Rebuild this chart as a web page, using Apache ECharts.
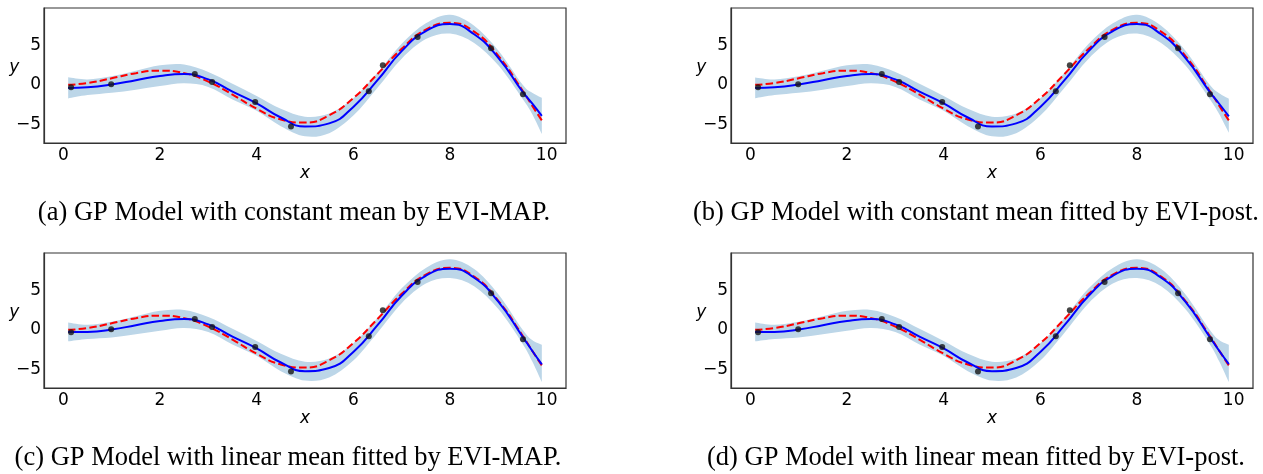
<!DOCTYPE html>
<html><head><meta charset="utf-8">
<script src="https://cdn.jsdelivr.net/npm/echarts@6/dist/echarts.min.js"></script>
<style>html,body{margin:0;padding:0;background:#fff}#c{width:1263px;height:474px}</style>
</head><body><div id="c"></div>
<script>
// ---- data ----
const X_GRID = [0.1, 0.5, 1.0, 1.5, 2.0, 2.5, 3.0, 3.5, 4.0, 4.5, 5.0, 5.5, 6.0, 6.5, 7.0, 7.5, 8.0, 8.5, 9.0, 9.5, 9.7, 9.9];
const TRUE_F = [0.01, 0.24, 0.84, 1.50, 1.82, 1.50, 0.42, -1.23, -3.03, -4.40, -4.79, -3.88, -1.68, 1.40, 4.60, 7.04, 7.91, 6.79, 3.71, -0.71, -2.64, -4.53];

const MEAN_A  = [-0.38, -0.30, 0.05, 0.60, 1.15, 1.40, 0.70, -0.85, -2.35, -4.15, -5.30, -4.90, -2.80, 0.60, 4.30, 6.85, 7.75, 6.45, 3.45, -0.85, -2.35, -3.95];
const UPPER_A = [0.97, 0.70, 1.10, 1.80, 2.50, 2.60, 1.65, 0.15, -1.40, -3.05, -4.05, -3.65, -1.70, 1.55, 5.25, 7.85, 8.95, 7.55, 4.40, 0.05, -1.00, -1.65];
const LOWER_A = [-1.73, -1.30, -1.00, -0.60, -0.15, 0.20, -0.25, -1.85, -3.30, -5.25, -6.55, -6.15, -3.90, -0.35, 3.35, 5.85, 6.55, 5.35, 2.50, -1.75, -3.70, -6.25];

const MEAN_B  = [-0.38, -0.30, 0.05, 0.60, 1.15, 1.40, 0.70, -0.85, -2.35, -4.15, -5.30, -4.90, -2.80, 0.60, 4.30, 6.85, 7.75, 6.45, 3.45, -0.85, -2.40, -4.00];
const UPPER_B = [0.95, 0.70, 1.10, 1.80, 2.50, 2.60, 1.65, 0.15, -1.40, -3.05, -4.05, -3.65, -1.70, 1.55, 5.25, 7.85, 8.95, 7.55, 4.40, 0.05, -1.05, -1.75];
const LOWER_B = [-1.70, -1.30, -1.00, -0.60, -0.15, 0.20, -0.25, -1.85, -3.30, -5.25, -6.55, -6.15, -3.90, -0.35, 3.35, 5.85, 6.55, 5.35, 2.50, -1.75, -3.70, -6.10];

const MEAN_C  = [-0.28, -0.25, 0.05, 0.60, 1.15, 1.40, 0.70, -0.85, -2.35, -4.15, -5.25, -4.85, -2.80, 0.60, 4.35, 6.90, 7.80, 6.65, 3.60, -0.85, -2.65, -4.40];
const UPPER_C = [0.95, 0.65, 1.05, 1.75, 2.45, 2.55, 1.65, 0.15, -1.40, -3.05, -4.05, -3.65, -1.70, 1.55, 5.30, 7.90, 9.00, 7.75, 4.55, 0.05, -1.30, -1.90];
const LOWER_C = [-1.45, -1.15, -0.95, -0.55, -0.10, 0.25, -0.25, -1.85, -3.30, -5.25, -6.45, -6.05, -3.90, -0.35, 3.40, 5.90, 6.60, 5.55, 2.65, -1.75, -4.00, -6.65];

const MEAN_D  = [-0.28, -0.25, 0.05, 0.60, 1.15, 1.40, 0.70, -0.85, -2.35, -4.15, -5.25, -4.85, -2.80, 0.60, 4.35, 6.90, 7.80, 6.65, 3.60, -0.85, -2.65, -4.35];
const UPPER_D = [0.95, 0.65, 1.05, 1.75, 2.45, 2.55, 1.65, 0.15, -1.40, -3.05, -4.05, -3.65, -1.70, 1.55, 5.30, 7.90, 9.00, 7.75, 4.55, 0.05, -1.30, -1.90];
const LOWER_D = [-1.45, -1.15, -0.95, -0.55, -0.10, 0.25, -0.25, -1.85, -3.30, -5.25, -6.45, -6.05, -3.90, -0.35, 3.40, 5.90, 6.60, 5.55, 2.65, -1.75, -4.00, -6.65];

const PTS_X = [0.16, 0.99, 2.72, 3.08, 3.97, 4.71, 6.32, 6.61, 7.33, 8.85, 9.51];
const PTS_Y = [-0.30, 0.09, 1.40, 0.38, -2.17, -5.31, -0.81, 2.51, 6.12, 4.68, -1.19];

const X_TICKS = [0, 2, 4, 6, 8, 10];
const Y_TICKS = [-5, 0, 5];
const CAPTIONS = [
  '(a) GP Model with constant mean by EVI-MAP.',
  '(b) GP Model with constant mean fitted by EVI-post.',
  '(c) GP Model with linear mean fitted by EVI-MAP.',
  '(d) GP Model with linear mean fitted by EVI-post.'
];

// ---- layout ----
const PANELS = [
  {left: 44,  top: 8,   mean: MEAN_A, up: UPPER_A, lo: LOWER_A, capX: 294, capY: 213},
  {left: 731, top: 8,   mean: MEAN_B, up: UPPER_B, lo: LOWER_B, capX: 976, capY: 213},
  {left: 44,  top: 253, mean: MEAN_C, up: UPPER_C, lo: LOWER_C, capX: 288, capY: 458},
  {left: 731, top: 253, mean: MEAN_D, up: UPPER_D, lo: LOWER_D, capX: 976, capY: 458}
];
const W = 522, H = 135;
const FRAME = '#333';
const BAND = '#bcd6e8';

// smooth path (Catmull-Rom -> cubic Bezier) through pixel points
function smoothSegs(pts) {
  let d = '';
  for (let i = 0; i < pts.length - 1; i++) {
    const p0 = pts[i - 1] || pts[i], p1 = pts[i], p2 = pts[i + 1], p3 = pts[i + 2] || pts[i + 1];
    const c1 = [p1[0] + (p2[0] - p0[0]) / 6, p1[1] + (p2[1] - p0[1]) / 6];
    const c2 = [p2[0] - (p3[0] - p1[0]) / 6, p2[1] - (p3[1] - p1[1]) / 6];
    d += 'C' + c1[0] + ',' + c1[1] + ' ' + c2[0] + ',' + c2[1] + ' ' + p2[0] + ',' + p2[1];
  }
  return d;
}

const grid = [], xAxis = [], yAxis = [], series = [], graphic = [];
PANELS.forEach((p, i) => {
  grid.push({left: p.left, top: p.top, width: W, height: H, show: true, z: 10,
    borderColor: FRAME, borderWidth: 1.2, backgroundColor: 'transparent',
    containLabel: false, outerBoundsMode: 'none'});
  xAxis.push({gridIndex: i, type: 'value', min: -0.4, max: 10.4, z: 10,
    axisLine: {show: true, onZero: false, lineStyle: {color: FRAME, width: 1.2}},
    axisTick: {show: false}, splitLine: {show: false},
    axisLabel: {customValues: X_TICKS, fontSize: 17, color: '#000', fontFamily: 'DejaVu Sans', margin: 4},
    name: 'x', nameLocation: 'middle', nameGap: 21,
    nameTextStyle: {fontStyle: 'italic', fontSize: 17, fontFamily: 'DejaVu Sans', color: '#000'}});
  yAxis.push({gridIndex: i, type: 'value', min: -7.4, max: 9.8, z: 10,
    axisLine: {show: true, onZero: false, lineStyle: {color: FRAME, width: 1.2}},
    axisTick: {show: false}, splitLine: {show: false},
    axisLabel: {customValues: Y_TICKS, fontSize: 17, color: '#000', fontFamily: 'DejaVu Sans', margin: 3,
      formatter: v => String(v).replace('-', '\u2212')}});
  // confidence band as one filled shape between the upper and lower edges
  series.push({type: 'custom', coordinateSystem: 'cartesian2d', xAxisIndex: i, yAxisIndex: i, silent: true, z: 1,
    data: [[X_GRID[0], p.up[0]]],
    renderItem: (params, api) => {
      const up = X_GRID.map((x, k) => api.coord([x, p.up[k]]));
      const lo = X_GRID.map((x, k) => api.coord([x, p.lo[k]])).reverse();
      const d = 'M' + up[0][0] + ',' + up[0][1] + smoothSegs(up) +
                'L' + lo[0][0] + ',' + lo[0][1] + smoothSegs(lo) + 'Z';
      return {type: 'path', shape: {pathData: d}, style: {fill: BAND, stroke: null}};
    }});
  series.push({type: 'line', xAxisIndex: i, yAxisIndex: i, smooth: true, symbol: 'none', silent: true,
    lineStyle: {color: '#ff0000', width: 2, type: [7.4, 3.2]}, data: X_GRID.map((x, k) => [x, TRUE_F[k]]), z: 3});
  series.push({type: 'line', xAxisIndex: i, yAxisIndex: i, smooth: true, symbol: 'none', silent: true,
    lineStyle: {color: '#0000ff', width: 2}, data: X_GRID.map((x, k) => [x, p.mean[k]]), z: 4});
  series.push({type: 'scatter', xAxisIndex: i, yAxisIndex: i, symbolSize: 6, silent: true,
    itemStyle: {color: '#151515'}, data: PTS_X.map((x, k) => [x, PTS_Y[k]]), z: 5});
  graphic.push({type: 'text', x: p.left - 29.7, y: p.top + 59.8,
    style: {text: 'y', font: 'italic 17px "DejaVu Sans"', fill: '#000', textAlign: 'center', textVerticalAlign: 'middle'}});
  graphic.push({type: 'text', x: p.capX, y: p.capY,
    style: {text: CAPTIONS[i], font: '26.5px "Liberation Serif"', fill: '#000', textAlign: 'center', textVerticalAlign: 'middle'}});
});

const chart = echarts.init(document.getElementById('c'), null, {renderer: 'canvas'});
chart.setOption({animation: false, grid, xAxis, yAxis, series, graphic});
</script></body></html>
